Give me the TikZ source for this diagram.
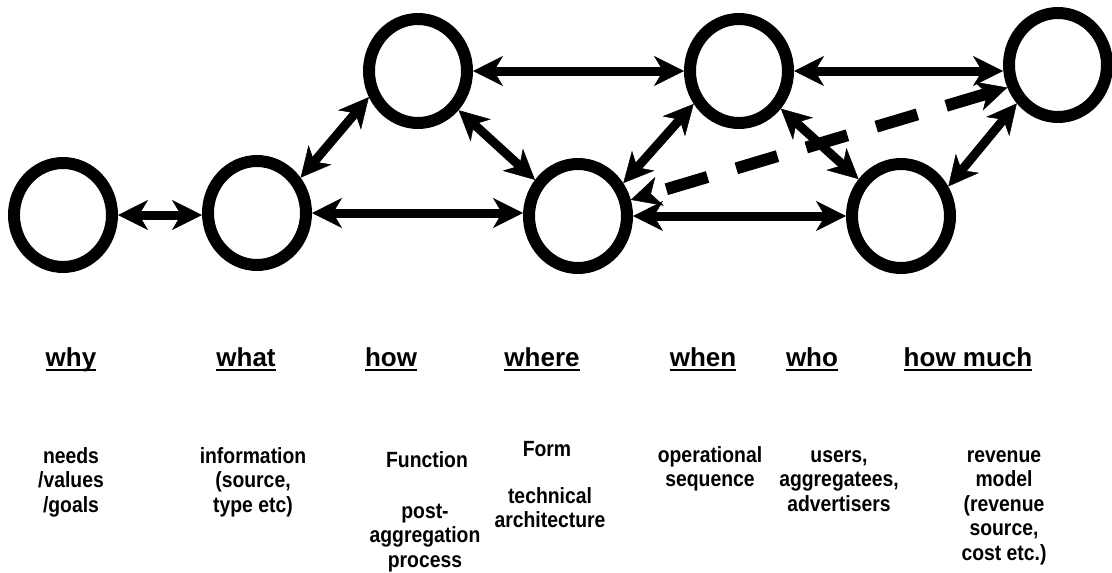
\documentclass[tikz,border=0pt]{standalone}
\usepackage{fontspec}
\setmainfont{Liberation Sans}
\newfontfamily\narrowbody{Liberation Sans}[FakeStretch=0.88]
\usetikzlibrary{arrows.meta,shapes.geometric}
\begin{document}
\begin{tikzpicture}[x=1pt,y=-1pt,
  ring/.style={ellipse, draw, line width=12pt, minimum width=98pt, minimum height=104pt, inner sep=0pt},
  tipx/.tip={Stealth[length=30pt,width=30pt,inset=9pt,line width=0.5pt]},
  link/.style={line width=9pt, tipx-tipx},
  dlink/.style={line width=12pt, tipx-tipx, dash pattern=on 43pt off 30pt},
  head/.style={font=\bfseries\fontsize{26}{30}\selectfont, inner sep=0pt, anchor=base},
  body/.style={font=\narrowbody\bfseries\fontsize{22}{24.5}\selectfont, align=center, inner sep=0pt, anchor=base},
  uline/.style={line width=2.5pt},
]
\useasboundingbox (0,0) rectangle (1112,573);
% circles
\node[ring] (c1) at (63,215) {};
\node[ring] (c2) at (257,213) {};
\node[ring] (c3) at (418,71) {};
\node[ring] (c4) at (578,216) {};
\node[ring] (c5) at (739,71) {};
\node[ring] (c6) at (901,216) {};
\node[ring] (c7) at (1058,65) {};
% connectors
\draw[link] (c1.east) -- (c1.east -| c2.west);
\draw[link] (c2.39) -- (c3.208);
\draw[link] (c2.east) -- (c2.east -| c4.west);
\draw[link] (c3.-44) -- (c4.140);
\draw[link] (c3.east) -- (c3.east -| c5.west);
\draw[link] (c4.36) -- (c5.216);
\draw[link] (c4.east) -- (c4.east -| c6.west);
\draw[link] (c5.-42) -- (c6.139);
\draw[link] (c5.east) -- (c5.east -| c7.west);
\draw[link] (c6.32) -- (c7.223);
\draw[dlink] (c7.204) -- (c4.17);
% headers
\node[head] (h1) at (71,366) {why};
\node[head] (h2) at (246,366) {what};
\node[head] (h3) at (391,366) {how};
\node[head] (h4) at (542,366) {where};
\node[head] (h5) at (703,366) {when};
\node[head] (h6) at (812,366) {who};
\node[head] (h7) at (968,366) {how much};
\foreach \h in {h1,h2,h3,h4,h5,h6,h7}
  \draw[uline] ([yshift=-4pt]\h.base west) -- ([yshift=-4pt]\h.base east);
% bodies (anchor at baseline of last line)
\node[body] (b1) at (71,512) {needs\\/values\\/goals};
\node[body] (b2) at (253,512) {information\\(source,\\type etc)};
\node[body] (b3) at (427,467) {Function};
\node[body] (b3b) at (425,567) {post-\\aggregation\\process};
\node[body] (b4) at (547,456) {Form};
\node[body] (b4b) at (550,527.5) {technical\\architecture};
\node[body] (b5) at (710,486.5) {operational\\sequence};
\node[body] (b6) at (839,511) {users,\\aggregatees,\\advertisers};
\node[body] (b7) at (1004,560) {revenue\\model\\(revenue\\source,\\cost etc.)};
\end{tikzpicture}
\end{document}
